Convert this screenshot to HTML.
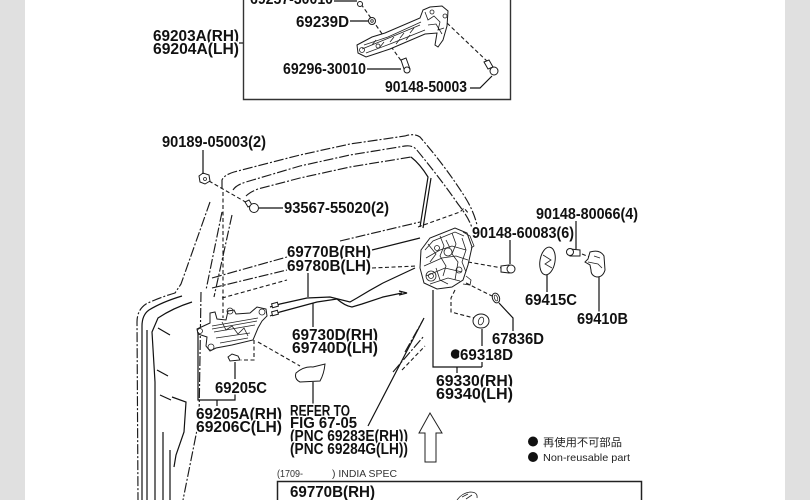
<!DOCTYPE html>
<html><head><meta charset="utf-8"><title>diagram</title>
<style>
html,body{margin:0;padding:0;background:#fff;width:810px;height:500px;overflow:hidden}
svg{display:block}
.t{font-family:"Liberation Sans",sans-serif;font-weight:bold;font-size:16px;fill:#111;stroke:#fff;stroke-width:3px;paint-order:stroke;stroke-linejoin:round}
.s{font-family:"Liberation Sans",sans-serif;font-size:10px;fill:#333}
.g{font-family:"Liberation Sans","Noto Sans CJK JP",sans-serif;fill:#222}
.l{stroke:#111;stroke-width:1.2;fill:none}
.dd{stroke:#1a1a1a;stroke-width:1.15;fill:none;stroke-dasharray:10,2,2,2}
.da{stroke:#1a1a1a;stroke-width:1.1;fill:none;stroke-dasharray:4,2.5}
.p{stroke:#1a1a1a;stroke-width:1;fill:#fff}
.h{stroke:#222;stroke-width:0.8;fill:none}
</style></head><body>
<svg width="810" height="500" viewBox="0 0 810 500" xmlns="http://www.w3.org/2000/svg">
<rect x="0" y="0" width="810" height="500" fill="#fff"/>
<rect x="0" y="0" width="25" height="500" fill="#e0e0e0"/>
<rect x="785" y="0" width="25" height="500" fill="#e0e0e0"/>

<!-- ===== top box ===== -->
<path d="M243.5,0 V99.5 H510.5 V0" stroke="#333" stroke-width="1.4" fill="none"/>
<path class="l" d="M239,43 H243"/>
<path class="da" d="M361,4 L373,21 L402,62"/>
<path class="da" d="M447,23 L490,64"/>
<path class="p" d="M357,45 L372,37 L385,33 L420,18 L423,10 L430,7 L442,6 L448,11 L447,26 L443,40 L438,47 L435,45 L437,33 L425,34 L390,49 L366,57 L358,53 Z"/>
<g class="h">
<path d="M362,49 L384,40 L420,25"/>
<path d="M366,53 L390,44 L425,30"/>
<path d="M364,45 L388,37 L421,22"/>
<path d="M372,45 L376,40 M380,47 L384,42 M390,42 L394,37 M400,38 L404,33 M410,33 L414,28 M396,44 L400,39 M406,40 L410,35"/>
<path d="M425,12 L428,20 L434,16 L440,22 L438,30 L444,28 M428,25 L436,24 L442,34"/>
<circle cx="362" cy="50" r="2.5"/>
<circle cx="378" cy="46" r="2"/>
<circle cx="432" cy="12" r="2"/>
<circle cx="445" cy="16" r="2"/>
</g>
<circle cx="360" cy="4" r="2.5" class="p"/>
<circle cx="372" cy="21" r="3.5" class="p"/><circle cx="372" cy="21" r="1.3" class="h"/>
<path class="p" d="M401,60 L406,58 L410,69 L405,72 Z"/><circle cx="407" cy="70" r="3" class="p"/>
<path class="p" d="M484,62 L489,60 L493,67 L488,69 Z"/><circle cx="494" cy="71" r="4" class="p"/>
<path class="l" d="M334,1 H357"/>
<path class="l" d="M350,21 H368"/>
<path class="l" d="M367,69 H401"/>
<path class="l" d="M470,88 H480 L492,76"/>

<text class="t" x="250" y="4" textLength="83" lengthAdjust="spacingAndGlyphs">69257-30010</text>
<text class="t" x="296" y="27" textLength="53" lengthAdjust="spacingAndGlyphs">69239D</text>
<text class="t" x="153" y="41" textLength="86" lengthAdjust="spacingAndGlyphs">69203A(RH)</text>
<text class="t" x="153" y="54" textLength="86" lengthAdjust="spacingAndGlyphs">69204A(LH)</text>
<text class="t" x="283" y="74" textLength="83" lengthAdjust="spacingAndGlyphs">69296-30010</text>
<text class="t" x="385" y="92" textLength="82" lengthAdjust="spacingAndGlyphs">90148-50003</text>

<!-- ===== door outline ===== -->
<path class="dd" d="M222,188 L222,180 Q224,175 234,172 L300,155 L350,144 L405,136 Q414,133 420,137 Q445,166 463,194 Q475,212 478,230"/>
<path class="dd" d="M233,190 Q236,185 246,182 L300,166 L350,155 L405,146 Q412,145 416,149 Q440,178 458,204 Q469,218 472,228"/>
<path class="dd" d="M246,196 Q250,192 258,189 L300,178 L350,167 L411,157"/>
<path class="l" d="M411,157 Q420,164 428,177 L420,227"/>
<path class="l" d="M431,178 L423,228"/>
<path class="da" d="M418,227 L460,212 L464,208 L469,214"/>

<path class="dd" d="M210,202 L181,284 L175,293 Q158,298 146,304 Q137,310 137,322 L138,500"/>
<path class="dd" d="M232,215 L214,297"/>
<path class="dd" d="M222,212 L206,290"/>
<path class="da" d="M223,192 V318"/>
<path class="dd" d="M201,292 L199,420 L183,500"/>
<path class="l" d="M182,296 Q162,302 149,310 Q142,315 142,326 L142,500"/>
<path class="l" d="M192,302 Q173,308 158,318 L152,332 L155,382 L155,500"/>
<path class="l" d="M158,328 L170,335 M157,370 L168,376 M160,395 L171,400 M172,397 L186,402 L184,432 L176,455 L174,467 M163,432 L163,500 M170,450 L170,500 M147,330 L147,500"/>

<path class="dd" d="M212,278 L287,257"/>
<path class="dd" d="M340,241 L420,222"/>
<path class="dd" d="M212,288 L287,270"/>
<path class="l" d="M372,250 L420,238"/>
<path class="da" d="M222,298 L287,280"/>
<path class="da" d="M372,268 L417,266"/>

<path class="l" d="M368,426 L424,318"/>
<path class="dd" d="M393,372 L424,336"/>
<path class="da" d="M402,370 L425,346"/>
<path class="dd" d="M405,352 L423,320"/>

<!-- ===== clips top ===== -->
<path class="da" d="M209,181 L249,204"/>
<path class="p" d="M199,176 L203,173 L209,175 L210,181 L205,184 L200,182 Z"/><circle cx="205" cy="179" r="1.5" class="h"/>
<path class="p" d="M245,202 L249,200 L252,205 L248,207 Z"/><circle cx="254" cy="208" r="4.5" class="p"/>
<path class="l" d="M203,150 V174"/>
<path class="l" d="M259,208 H283"/>

<!-- ===== cables ===== -->
<path class="l" d="M270,307 L280,304 L307,298 L330,297 Q342,300 350,302 L357,298 Q370,290 383,283 L415,268"/>
<path class="l" d="M270,316 L280,312 L317,302 L337,299 Q345,306 352,307 L362,304 L383,297 L402,293"/>
<path class="l" d="M399,291 L407,293 L399,295"/>
<rect x="272" y="303" width="6" height="4" class="p" transform="rotate(-15 275 305)"/>
<rect x="272" y="311" width="6" height="4" class="p" transform="rotate(-15 275 313)"/>
<path class="l" d="M308,273 V297"/>
<path class="l" d="M313,303 V327"/>

<!-- ===== inside handle ===== -->
<path class="p" d="M197,329 L210,323 L210,313 L215,312 L217,319 L226,320 L228,311 L234,310 L236,314 L250,313 L257,307 L266,309 L267,316 L262,321 L258,328 L253,340 L232,345 L216,348 L210,351 L206,346 L207,337 L198,334 Z"/>
<g class="h">
<path d="M212,326 L258,318 M214,332 L255,325 M216,338 L250,333 M220,343 L248,338 M212,329 L257,321"/>
<path d="M222,322 L226,330 L232,326 L238,334 L244,328 L248,336"/>
<circle cx="200" cy="331" r="2.5"/><circle cx="230" cy="311" r="3"/><circle cx="262" cy="312" r="3"/><circle cx="211" cy="347" r="3"/>
</g>
<path class="da" d="M254,340 V360 H241"/>
<path class="da" d="M258,342 L300,366"/>
<path class="p" d="M228,357 L232,354 L238,356 L240,360 L230,361 Z"/>
<path class="p" d="M296,373 Q304,366 313,367 L325,364 Q324,374 320,381 L300,382 Q294,379 296,373 Z"/>
<path class="l" d="M313,382 V404"/>
<path class="l" d="M198,332 V400 H235 V394"/>
<path class="l" d="M235,362 V379"/>
<path class="l" d="M217,400 V406"/>

<!-- ===== latch ===== -->
<path class="da" d="M468,262 L502,268"/>
<path class="da" d="M455,290 L451,298 L451,312 L474,318"/>
<path class="da" d="M466,283 L492,296"/>
<path class="p" d="M421,250 L430,238 L455,228 L467,233 L472,247 L468,265 L463,280 L452,287 L437,289 L424,283 L420,268 Z"/>
<g class="h">
<path d="M425,250 L433,241 L455,232 L464,236"/>
<path d="M426,258 L440,250 L452,246 L466,250"/>
<path d="M424,266 L442,258 L456,256 L468,260"/>
<path d="M426,276 L445,268 L462,272"/>
<path d="M430,284 L448,278 L460,281"/>
<path d="M440,236 L444,246 L440,256 L446,266 L443,276"/>
<path d="M452,233 L456,244 L452,254 L458,262 L455,280"/>
<path d="M462,238 L466,250 L462,262 L466,272"/>
<path d="M428,244 L436,254 L430,262 M446,240 L450,248 M436,268 L440,280 L448,284"/>
<circle cx="431" cy="276" r="5"/><circle cx="431" cy="276" r="2.5"/>
<circle cx="448" cy="252" r="4"/><circle cx="459" cy="270" r="3"/><circle cx="437" cy="248" r="2.5"/>
<path d="M463,232 L470,236 L474,246 L471,248 M466,276 L471,280 L470,285 L463,284"/>
</g>
<path class="l" d="M433,290 V367 H482"/>
<path class="l" d="M457,367 V373"/>

<!-- bolts, striker etc -->
<path class="p" d="M501,266 L509,265 L509,273 L501,272 Z"/><circle cx="511" cy="269" r="4" class="p"/>
<path class="l" d="M510,240 V264"/>
<path class="p" d="M570,249 L580,250 L580,256 L570,256 Z"/><circle cx="570" cy="252" r="3.5" class="p"/>
<path class="l" d="M576,221 V249"/>
<path class="da" d="M582,254 L592,258"/>
<path class="p" d="M590,252 Q600,249 604,256 L605,270 Q603,277 597,277 Q591,276 591,270 L590,265 L585,262 L588,259 Z"/>
<path class="h" d="M588,262 L598,264 L602,268 M594,256 L600,258"/>
<path class="l" d="M599,277 V312"/>
<ellipse cx="547.5" cy="261" rx="7.5" ry="14" class="p" transform="rotate(10 547.5 261)"/>
<path class="h" d="M543,255 L551,260 L545,264 L552,268"/>
<path class="l" d="M547,275 V292"/>
<ellipse cx="496" cy="298" rx="3.5" ry="5" class="p" transform="rotate(-20 496 298)"/>
<ellipse cx="496" cy="298" rx="1.5" ry="3" class="h" transform="rotate(-20 496 298)"/>
<path class="l" d="M499,303 L513,318 V331"/>
<ellipse cx="481" cy="321" rx="8" ry="7" class="p"/>
<ellipse cx="481" cy="321" rx="2.5" ry="4" class="h" transform="rotate(20 481 321)"/>
<path class="l" d="M482,329 V346 M482,362 V367"/>

<!-- arrow -->
<polygon points="430,413 442,433 436,433 436,462 425,462 425,433 419,433" fill="#fff" stroke="#222" stroke-width="1"/>

<!-- bottom box -->
<path d="M277.5,500 V481.5 H641.5 V500" stroke="#222" stroke-width="1.5" fill="none"/>
<path class="h" d="M457,500 Q462,493 470,492 Q478,492 477,498 M462,497 L468,494 M466,499 L472,495"/>

<!-- ===== labels ===== -->
<text class="t" x="162" y="147" textLength="104" lengthAdjust="spacingAndGlyphs">90189-05003(2)</text>
<text class="t" x="284" y="213" textLength="105" lengthAdjust="spacingAndGlyphs">93567-55020(2)</text>
<text class="t" x="536" y="219" textLength="102" lengthAdjust="spacingAndGlyphs">90148-80066(4)</text>
<text class="t" x="472" y="238" textLength="102" lengthAdjust="spacingAndGlyphs">90148-60083(6)</text>
<text class="t" x="287" y="257" textLength="84" lengthAdjust="spacingAndGlyphs">69770B(RH)</text>
<text class="t" x="287" y="271" textLength="84" lengthAdjust="spacingAndGlyphs">69780B(LH)</text>
<text class="t" x="292" y="340" textLength="86" lengthAdjust="spacingAndGlyphs">69730D(RH)</text>
<text class="t" x="292" y="353" textLength="86" lengthAdjust="spacingAndGlyphs">69740D(LH)</text>
<text class="t" x="525" y="305" textLength="52" lengthAdjust="spacingAndGlyphs">69415C</text>
<text class="t" x="577" y="324" textLength="51" lengthAdjust="spacingAndGlyphs">69410B</text>
<text class="t" x="492" y="344" textLength="52" lengthAdjust="spacingAndGlyphs">67836D</text>
<circle cx="455.5" cy="354" r="4.7" fill="#111"/>
<text class="t" x="460" y="360" textLength="53" lengthAdjust="spacingAndGlyphs">69318D</text>
<text class="t" x="436" y="386" textLength="77" lengthAdjust="spacingAndGlyphs">69330(RH)</text>
<text class="t" x="436" y="399" textLength="77" lengthAdjust="spacingAndGlyphs">69340(LH)</text>
<text class="t" x="215" y="393" textLength="52" lengthAdjust="spacingAndGlyphs">69205C</text>
<text class="t" x="196" y="419" textLength="86" lengthAdjust="spacingAndGlyphs">69205A(RH)</text>
<text class="t" x="196" y="432" textLength="86" lengthAdjust="spacingAndGlyphs">69206C(LH)</text>
<text class="t" x="290" y="416" textLength="60" lengthAdjust="spacingAndGlyphs">REFER TO</text>
<text class="t" x="290" y="428" textLength="67" lengthAdjust="spacingAndGlyphs">FIG 67-05</text>
<text class="t" x="290" y="441" textLength="118" lengthAdjust="spacingAndGlyphs">(PNC 69283E(RH))</text>
<text class="t" x="290" y="454" textLength="118" lengthAdjust="spacingAndGlyphs">(PNC 69284G(LH))</text>
<text class="s" x="277" y="477" textLength="26" lengthAdjust="spacingAndGlyphs">(1709-</text>
<text class="s" x="332" y="477" textLength="65" lengthAdjust="spacingAndGlyphs">) INDIA SPEC</text>
<text class="t" x="290" y="497" textLength="85" lengthAdjust="spacingAndGlyphs">69770B(RH)</text>

<!-- legend -->
<circle cx="533" cy="441.5" r="5" fill="#111"/>
<text class="g" x="543" y="446" font-size="11" textLength="79" lengthAdjust="spacingAndGlyphs">再使用不可部品</text>
<circle cx="533" cy="457" r="5" fill="#111"/>
<text class="g" x="543" y="461" font-size="10.5" textLength="87" lengthAdjust="spacingAndGlyphs">Non-reusable part</text>
</svg>
</body></html>
